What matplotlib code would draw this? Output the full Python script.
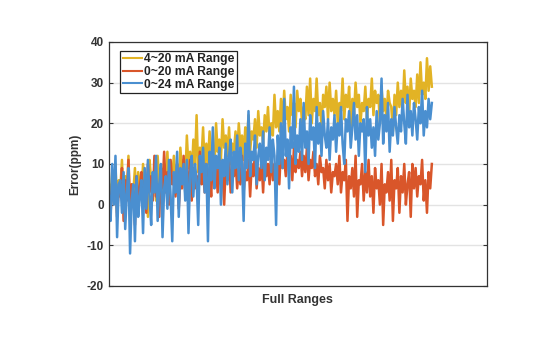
import matplotlib.pyplot as plt
import numpy as np

# series (ppm), equally spaced across the full range
range_4_20 = [5, 1, 8, 3, 10, -2, 6, 4, 11, 0, 7, 2, 12, -4, 5, 3, 9, -1, 8, 5,
              2, 10, 4, 7, -3, 11, 6, 3, 9, 1, 12, 5, 8, 2, 10, 6, 13, 4, 9, 7,
              12, 5, 10, 3, 14, 8, 11, 6, 17, 9, 13, 7, 16, 10, 22, 8, 14, 11, 19, 9,
              15, 10, 18, 12, 14, 9, 20, 13, 16, 11, 21, 14, 17, 12, 19, 10, 15, 13, 18, 12,
              20, 14, 17, 11, 19, 15, 22, 13, 18, 16, 21, 14, 23, 17, 19, 15, 22, 18, 24, 16,
              20, 17, 27, 19, 23, 18, 26, 20, 28, 21, 24, 18, 27, 22, 25, 19, 28, 23, 26, 20,
              24, 21, 29, 22, 31, 20, 26, 23, 31, 22, 25, 19, 27, 24, 29, 21, 30, 23, 26, 22,
              28, 20, 25, 23, 31, 21, 27, 24, 29, 19, 26, 22, 30, 24, 27, 20, 25, 23, 29, 21,
              26, 24, 31, 22, 28, 25, 27, 20, 29, 23, 26, 21, 28, 25, 24, 18, 27, 22, 30, 24,
              28, 23, 33, 25, 29, 22, 31, 26, 28, 24, 32, 25, 35, 27, 30, 26, 36, 28, 34, 29]
range_0_20 = [3, -2, 5, 1, 8, -3, 4, 2, 9, -4, 6, 1, 11, -1, 5, 3, -5, 7, 2, 4,
              8, 0, 6, -2, 10, 3, 7, 1, 12, 2, 5, -3, 9, 4, 13, 3, 8, 0, 11, 5,
              7, 2, 10, -1, 6, 4, 12, 3, 8, 5, 11, 1, 9, 4, 7, 2, 13, 5, 8, 3,
              10, 4, 7, 2, 12, 6, 9, 3, 11, 5, 8, 0, 10, 6, 12, 3, 9, 7, 11, 4,
              9, 5, 12, 3, 8, 6, 11, 2, 10, 7, 13, 4, 9, 6, 11, 3, 12, 7, 10, 5,
              13, 6, 10, 8, 12, 5, 14, 9, 11, 7, 13, 10, 12, 6, 14, 8, 11, 9, 13, 7,
              12, 8, 14, 6, 11, 9, 13, 7, 10, 5, 12, 8, 9, 4, 11, 6, 10, 3, 8, 7,
              10, 5, 12, 3, 8, 6, 11, -4, 7, 4, 9, 2, 12, -3, 6, 5, 10, 1, 8, 3,
              11, 2, 7, -2, 9, 4, 6, 0, 10, -5, 5, 3, 8, 1, 11, -4, 6, 4, 9, -2,
              7, 3, 10, 0, 5, 8, -3, 10, 4, 9, 2, 7, 5, 11, 1, 6, -2, 8, 4, 10]
range_0_24 = [2, -4, 10, 0, 12, -8, 5, 6, -2, 8, -6, 3, 9, -12, 1, 5, -9, 7, -3, 2,
              6, -7, 9, -1, 11, 2, -5, 8, 3, 12, -4, 5, 10, -8, 4, 7, -1, 11, 2, -9,
              8, 3, 13, -3, 9, 5, 10, 1, 11, -7, 7, 12, 2, 10, 6, -5, 12, 8, 14, 3,
              10, -9, 13, 6, 19, 4, 12, 9, 14, 0, 11, 7, 15, 5, 12, 16, 3, 13, 9, 17,
              6, 14, 10, -4, 15, 9, 23, 7, 13, 11, 17, 5, 12, 15, 9, 18, 6, 14, 11, 19,
              8, 16, 12, -5, 17, 10, 20, 9, 26, 12, 16, 4, 19, 14, 29, 10, 17, 13, 21, 11,
              25, 14, 18, 10, 22, 16, 19, 9, 24, 15, 20, 12, 23, 17, 14, 21, 11, 19, 16, 22,
              13, 20, 17, 24, 15, 10, 21, 18, 23, 14, 19, 25, 16, 22, 12, 20, 18, 21, 8, 24,
              17, 21, 14, 19, 12, 23, 16, 20, 31, 15, 22, 18, 25, 13, 21, 17, 24, 19, 15, 22,
              18, 26, 20, 15, 27, 19, 23, 17, 25, 21, 16, 24, 20, 28, 17, 23, 19, 26, 21, 25]
labels = ['4~20 mA Range', '0~20 mA Range', '0~24 mA Range']
colors = ['#E2B325', '#D9562A', '#4A8FD0']
y_ticks = [-20, -10, 0, 10, 20, 30, 40]

plt.rcParams['font.family'] = ['Liberation Sans', 'DejaVu Sans']
plt.rcParams['font.weight'] = 'bold'
plt.rcParams['axes.unicode_minus'] = False

fig = plt.figure(figsize=(5.46, 3.61), dpi=100)
ax = fig.add_axes([0.1996, 0.2078, 0.692, 0.676])

x = np.arange(len(range_4_20))
for series, lab, col in zip([range_4_20, range_0_20, range_0_24], labels, colors):
    ax.plot(x, series, color=col, linewidth=1.8, label=lab)

ax.set_xlim(0, (len(x) - 1) * 378 / 323)
ax.set_ylim(-20, 40)
ax.set_yticks(y_ticks)
ax.set_xticks([])
ax.yaxis.grid(True, color='#e3e3e3', linewidth=1)
ax.set_axisbelow(True)
ax.tick_params(axis='y', direction='in', length=3, labelsize=8.5, colors='#333333',
               right=True, width=0.8)
for s in ax.spines.values():
    s.set_color('#333333')
    s.set_linewidth(0.9)

ax.set_ylabel('Error(ppm)', fontsize=8.5, fontweight='bold', color='#333333', labelpad=4)
ax.set_xlabel('Full Ranges', fontsize=9, fontweight='bold', color='#333333', labelpad=6)

leg = ax.legend(loc='upper left', bbox_to_anchor=(0.03, 0.963), fontsize=8.7,
                handlelength=1.6, handletextpad=0.2, borderpad=0.2, labelspacing=0.05,
                fancybox=False, framealpha=1, borderaxespad=0)
leg.get_frame().set_edgecolor('#222222')
leg.get_frame().set_linewidth(0.9)
for line in leg.get_lines():
    line.set_linewidth(1.5)
for t in leg.get_texts():
    t.set_fontweight('bold')
    t.set_color('#222222')

fig.savefig('out.png', dpi=100)
